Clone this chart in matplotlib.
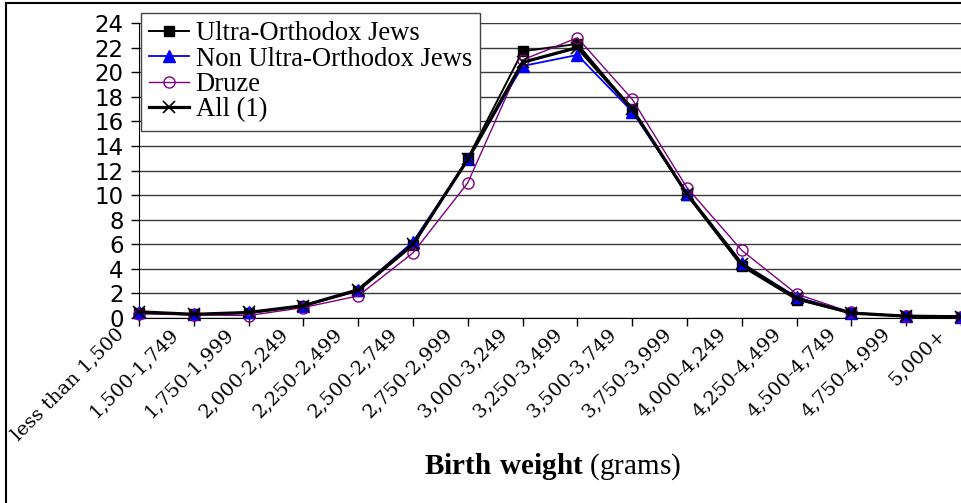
import matplotlib
matplotlib.use("Agg")
import matplotlib.pyplot as plt
from matplotlib.patches import Rectangle

# Birth weight distribution (%) by population group
categories = ["less than 1,500", "1,500-1,749", "1,750-1,999", "2,000-2,249",
              "2,250-2,499", "2,500-2,749", "2,750-2,999", "3,000-3,249",
              "3,250-3,499", "3,500-3,749", "3,750-3,999", "4,000-4,249",
              "4,250-4,499", "4,500-4,749", "4,750-4,999", "5,000+"]
ultra_orthodox = [0.4, 0.3, 0.4, 1.0, 2.2, 5.9, 13.0, 21.7, 22.3, 17.0, 10.0, 4.2, 1.5, 0.4, 0.15, 0.1]
non_ultra = [0.5, 0.3, 0.45, 1.0, 2.3, 6.2, 12.9, 20.5, 21.4, 16.8, 10.1, 4.45, 1.7, 0.4, 0.15, 0.1]
druze = [0.35, 0.25, 0.2, 0.85, 1.8, 5.3, 11.0, 21.0, 22.8, 17.8, 10.6, 5.5, 1.95, 0.45, 0.15, 0.1]
all_groups = [0.5, 0.3, 0.45, 1.0, 2.3, 6.0, 12.9, 20.8, 22.0, 17.0, 10.1, 4.4, 1.6, 0.4, 0.15, 0.1]
yticks = list(range(0, 25, 2))

plt.rcParams['mathtext.fontset'] = 'custom'
plt.rcParams['mathtext.rm'] = 'Liberation Serif'
plt.rcParams['mathtext.bf'] = 'Liberation Serif:bold'

fig = plt.figure(figsize=(9.61, 5.03), dpi=100)
ax = fig.add_axes([139 / 961, 1 - 318 / 503, 822 / 961, 295 / 503])

x = list(range(len(categories)))
ax.plot(x, ultra_orthodox, color='black', lw=1.4, marker='s', ms=7,
        mfc='black', mec='black', label='Ultra-Orthodox Jews', clip_on=False, zorder=3)
ax.plot(x, non_ultra, color='blue', lw=1.3, marker='^', ms=8,
        mfc='blue', mec='blue', label='Non Ultra-Orthodox Jews', clip_on=False, zorder=4)
ax.plot(x, druze, color='#800080', lw=1.0, marker='o', ms=8,
        mfc='none', mec='#800080', mew=1.0, label='Druze', clip_on=False, zorder=5)
ax.plot(x, all_groups, color='black', lw=2.3, marker='x', ms=9, mew=1.2,
        label='All (1)', clip_on=False, zorder=6)

ax.set_xlim(0, len(categories) - 1)
ax.set_ylim(0, 24)
ax.set_yticks(yticks)
ax.set_yticklabels([str(v) for v in yticks], fontsize=16.5, family='DejaVu Sans')
ax.set_xticks(x)
ax.set_xticklabels([])
# rotated category labels, ending down-left of each tick
for i, cat in enumerate(categories):
    ax.annotate(cat, (i, 0), xytext=(-13, -9.5), textcoords='offset points',
                fontsize=14, family='DejaVu Serif', rotation=45,
                ha='right', va='center', rotation_mode='anchor',
                annotation_clip=False)

ax.grid(axis='y', color='#3a3a3a', lw=1.0)
ax.set_axisbelow(True)
for side in ['top', 'right']:
    ax.spines[side].set_visible(False)
ax.spines['left'].set_color('black')
ax.spines['bottom'].set_color('black')
ax.tick_params(axis='both', direction='out', length=6, width=1, color='black')
ax.tick_params(axis='y', pad=5)

leg = ax.legend(loc='upper left', bbox_to_anchor=(141 / 961, 1 - 13 / 503),
                bbox_transform=fig.transFigure, borderaxespad=0,
                prop={'family': 'Liberation Serif', 'size': 19.2},
                frameon=True, fancybox=False, framealpha=1, edgecolor='#444444',
                labelspacing=0.02, borderpad=0.3, handlelength=1.5,
                handletextpad=0.25)
leg.get_frame().set_linewidth(1.0)
leg.set_zorder(10)

fig.text(552 / 961, 1 - 467 / 503, r'$\mathbf{Birth\ weight}$ (grams)',
         family='Liberation Serif', fontsize=21, ha='center', va='center')

# outer chart border (right and bottom edges fall outside the image)
fig.patches.append(Rectangle((6 / 961, -0.1), 1.2, 1 - 3 / 503 + 0.1,
                             transform=fig.transFigure, fill=False,
                             edgecolor='black', lw=1.5))

fig.savefig('out.png', dpi=100)
